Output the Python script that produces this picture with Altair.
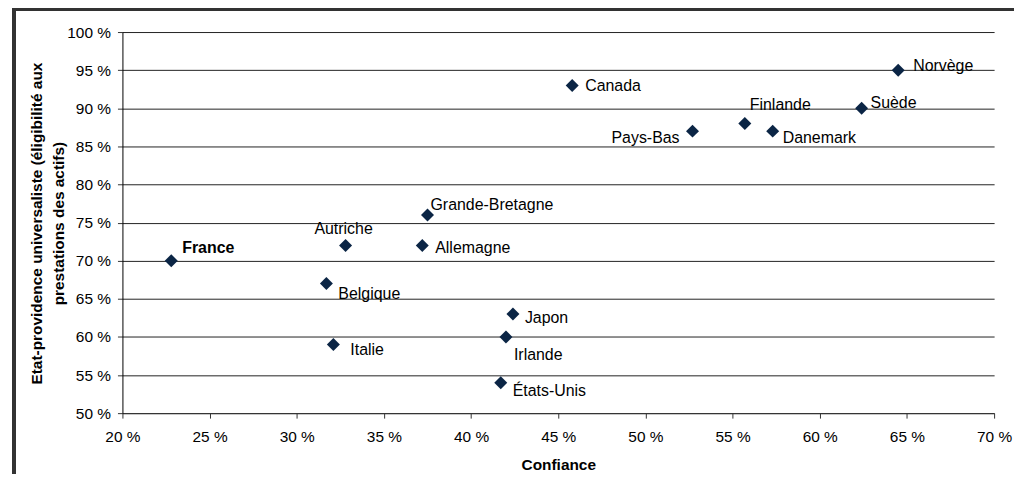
import altair as alt
import pandas as pd

countries = ["France", "Autriche", "Belgique", "Italie", "Grande-Bretagne", "Allemagne",
             "Japon", "Irlande", "États-Unis", "Canada", "Pays-Bas", "Finlande",
             "Danemark", "Suède", "Norvège"]
confiance = [22.8, 32.8, 31.7, 32.1, 37.5, 37.2, 42.4, 42.0, 41.7, 45.8, 52.7, 55.7, 57.3, 62.4, 64.5]
universaliste = [70, 72, 67, 59, 76, 72, 63, 60, 54, 93, 87, 88, 87, 90, 95]
x_ticks = [20, 25, 30, 35, 40, 45, 50, 55, 60, 65, 70]
y_ticks = [50, 55, 60, 65, 70, 75, 80, 85, 90, 95, 100]

# label placement (style only): align, dx, dy, weight
label_style = {
    "France": ("left", 11, -13, "bold"),
    "Autriche": ("center", -2, -17, "normal"),
    "Belgique": ("left", 12, 11, "normal"),
    "Italie": ("left", 17, 6, "normal"),
    "Grande-Bretagne": ("left", 3, -10, "normal"),
    "Allemagne": ("left", 13, 3, "normal"),
    "Japon": ("left", 12, 4, "normal"),
    "Irlande": ("left", 8, 18, "normal"),
    "États-Unis": ("left", 12, 8, "normal"),
    "Canada": ("left", 13, 1, "normal"),
    "Pays-Bas": ("right", -13, 7, "normal"),
    "Finlande": ("left", 5, -19, "normal"),
    "Danemark": ("left", 10, 7, "normal"),
    "Suède": ("left", 9, -5, "normal"),
    "Norvège": ("left", 15, -4, "normal"),
}

df = pd.DataFrame({"pays": countries, "conf": confiance, "univ": universaliste})

FONT = "Liberation Sans"
AX = 15.5

x_enc = alt.X("conf:Q",
              scale=alt.Scale(domain=[20, 70], nice=False, zero=False),
              axis=alt.Axis(values=x_ticks, labelExpr="datum.value + ' %'", grid=False,
                            title="Confiance", titleFont=FONT, titleFontSize=AX,
                            titleFontWeight="bold", titleColor="#000",
                            titleY=45, titleBaseline="top",
                            labelFont=FONT, labelFontSize=AX, labelColor="#000",
                            labelPadding=12, tickSize=5, tickColor="#333",
                            domainColor="#333", labelFlush=False, labelOverlap=False))
y_enc = alt.Y("univ:Q",
              scale=alt.Scale(domain=[50, 100], nice=False, zero=False),
              axis=alt.Axis(values=y_ticks, tickCount=11, labelExpr="datum.value + ' %'",
                            grid=True, gridColor="#222", gridWidth=1, gridOpacity=1,
                            title=["Etat-providence universaliste (éligibilité aux",
                                   "prestations des actifs)"],
                            titleFont=FONT, titleFontSize=AX, titleFontWeight="bold",
                            titleColor="#000", titleAngle=-90, titleAlign="center",
                            titleBaseline="top", titleX=-93, titleY=192, titleLineHeight=22,
                            labelFont=FONT, labelFontSize=AX, labelColor="#000",
                            labelPadding=7, tickSize=5, tickColor="#333",
                            domainColor="#000", labelFlush=False, labelOverlap=False))

points = alt.Chart(df).mark_point(shape="diamond", filled=True, size=170,
                                  color="#0b2545", opacity=1).encode(x=x_enc, y=y_enc)

layers = [points]
for name, (align, dx, dy, weight) in label_style.items():
    layers.append(
        alt.Chart(df).transform_filter(alt.datum.pays == name)
        .mark_text(align=align, baseline="middle", dx=dx, dy=dy, font=FONT,
                   fontSize=16, fontWeight=weight, color="#000")
        .encode(x="conf:Q", y="univ:Q", text="pays:N")
    )

frame = alt.Chart(df).mark_rect(fill=None, stroke="#333", strokeWidth=2.5).encode(
    x=alt.value(-109), x2=alt.value(960), y=alt.value(-23), y2=alt.value(600))
blue = alt.Chart(df).mark_rule(color="#4a63c4", strokeWidth=1.5).encode(
    x=alt.value(898), y=alt.value(425), y2=alt.value(600))

chart = alt.layer(frame, blue, *layers).properties(
    width=876, height=383,
    autosize=alt.AutoSizeParams(type="none"),
    padding={"left": 115, "top": 23, "right": 20, "bottom": 60},
    background="white",
).configure_view(stroke=None)

chart.save("out.html", embed_options={"renderer": "svg", "actions": False})
